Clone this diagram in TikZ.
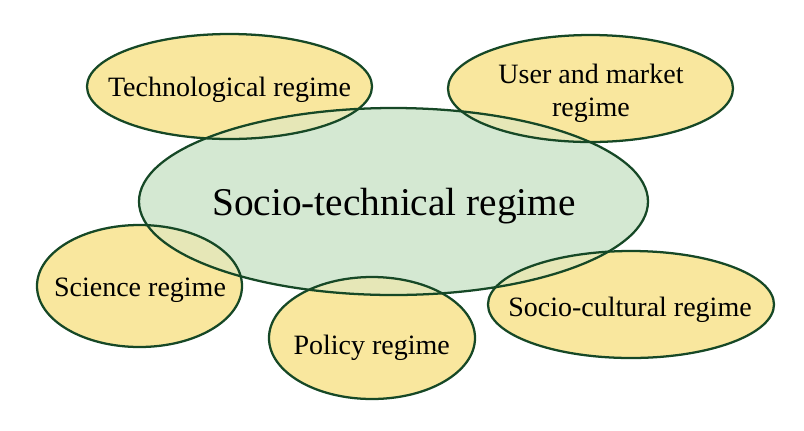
\documentclass[tikz,border=0pt]{standalone}
\usepackage{fontspec}
\setmainfont{Liberation Serif}
\definecolor{regimeyellow}{RGB}{249,231,158}
\definecolor{regimegreen}{RGB}{212,232,210}
\definecolor{regimeedge}{RGB}{22,72,38}
\tikzset{
    edge/.style={draw=regimeedge, line width=1.7pt},
    small/.style={anchor=base, inner sep=0pt, font=\fontsize{21}{25}\selectfont},
    big/.style={anchor=base, inner sep=0pt, font=\fontsize{29.5}{35}\selectfont}
}

\begin{document}
\begin{tikzpicture}[x=0.75pt, y=-0.75pt]
    \useasboundingbox (0,0) rectangle (804,430);

    % yellow ellipses: x/y/rx/ry
    \def\outer{229.5/86.5/142.5/52.5, 590.5/88.5/142.5/53.5, 139.5/286/102.5/61, 372/338/103/61, 631/304.5/143/53.5}

    \foreach \x/\y/\a/\b in \outer
        \fill[regimeyellow] (\x,\y) ellipse ({\a} and {\b});
    \fill[regimegreen] (393.5,201.5) ellipse (254.5 and 93.5);

    % overlaps
    \begin{scope}
        \clip (393.5,201.5) ellipse (254.5 and 93.5);
        \foreach \x/\y/\a/\b in \outer
            \fill[regimeyellow, fill opacity=0.5] (\x,\y) ellipse ({\a} and {\b});
    \end{scope}

    \foreach \x/\y/\a/\b in \outer
        \draw[edge] (\x,\y) ellipse ({\a} and {\b});
    \draw[edge] (393.5,201.5) ellipse (254.5 and 93.5);

    \node[big] (st) at (394,215) {Socio-technical regime};
    \node[small] (tech) at (229.5,96.7) {Technological regime};
    \node[small] (user) at (591,83) {User and market};
    \node[small] (user2) at (591,116) {regime};
    \node[small] (sci) at (140,296.7) {Science regime};
    \node[small] (pol) at (371.7,354) {Policy regime};
    \node[small] (cult) at (630,316) {Socio-cultural regime};

\end{tikzpicture}
\end{document}
